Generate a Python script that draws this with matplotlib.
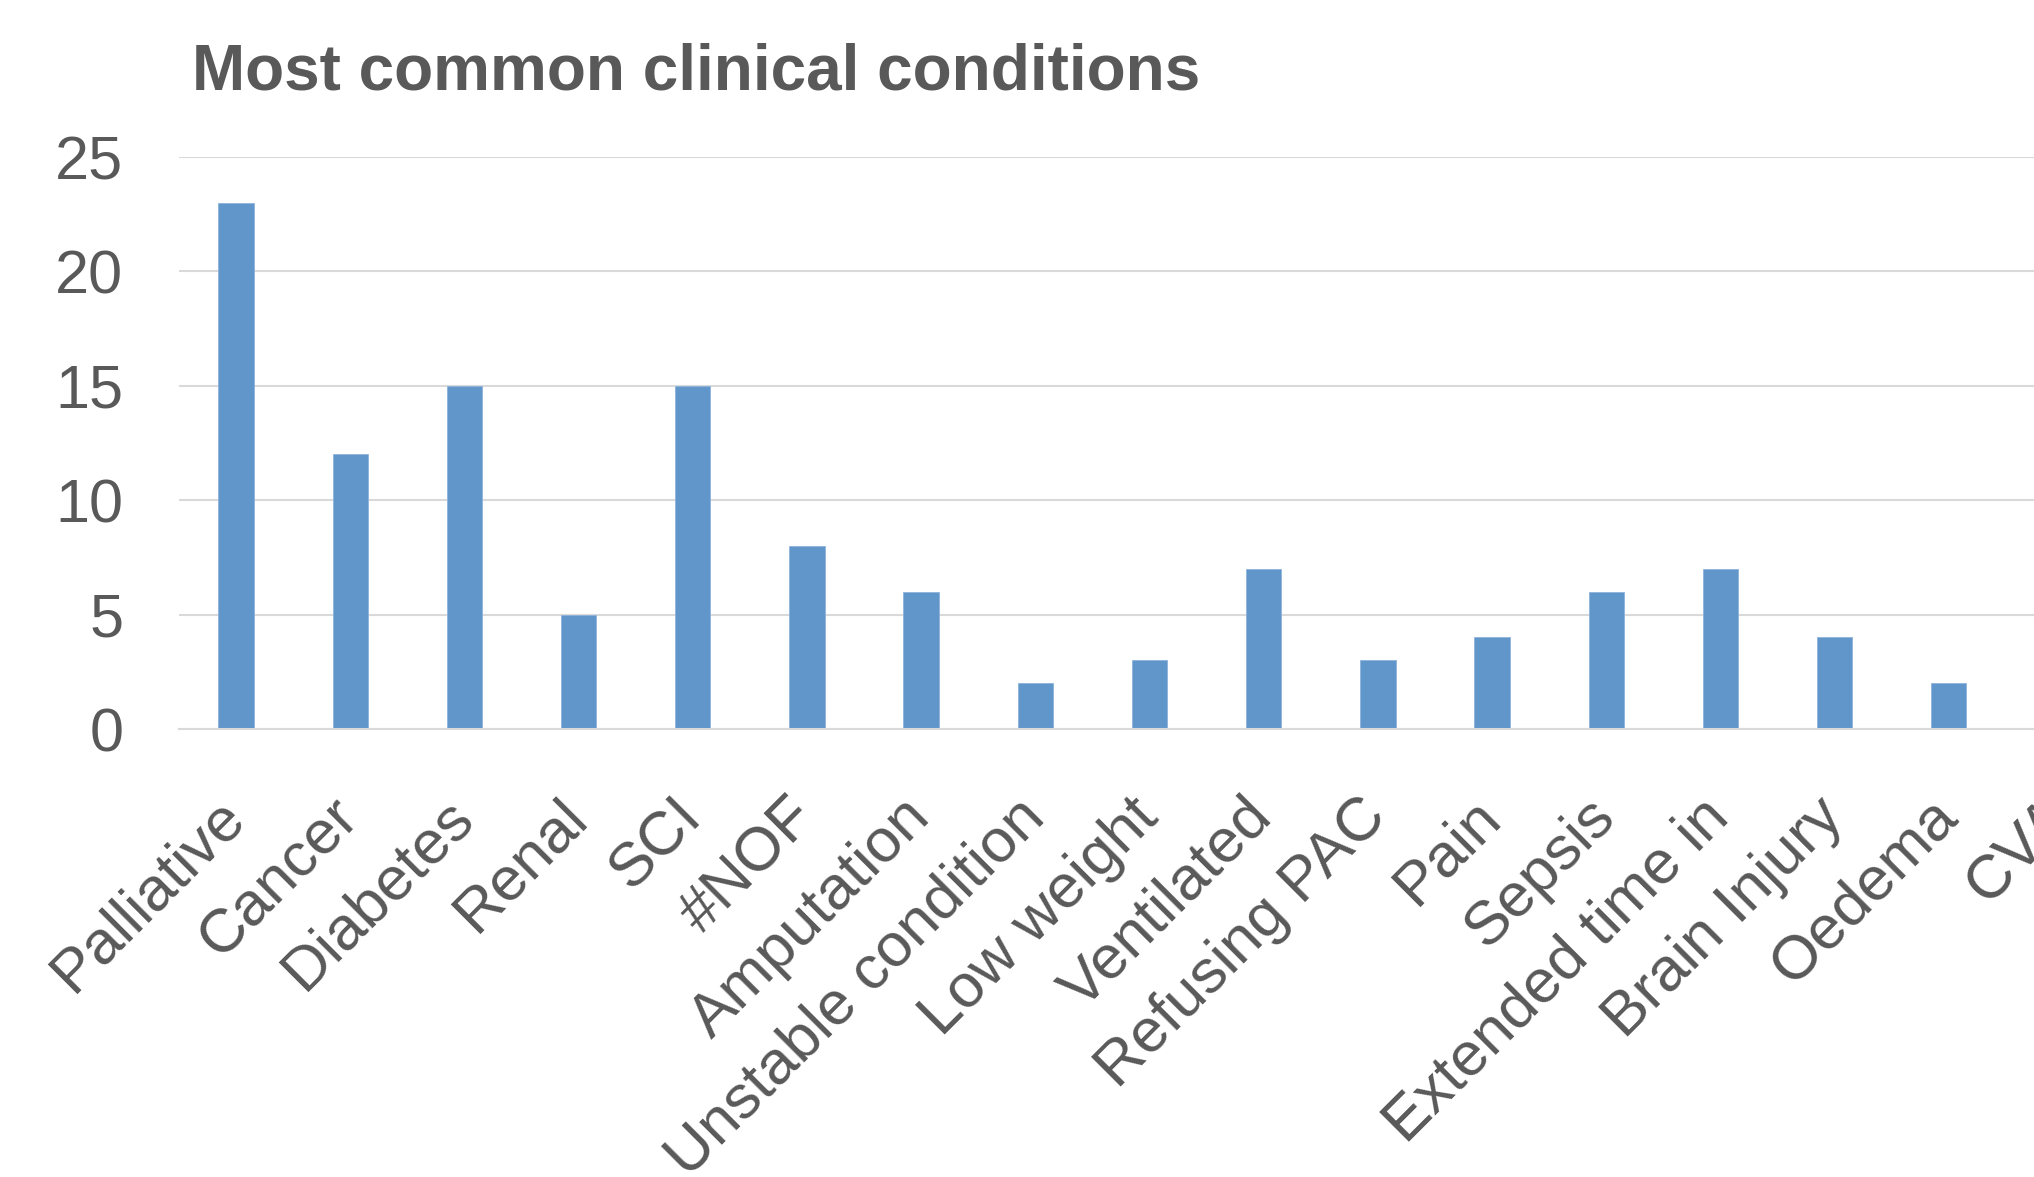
#!/usr/bin/env python3

import matplotlib
matplotlib.use('Agg')
import matplotlib.pyplot as plt

# data (CVA bar falls outside the visible canvas)
conditions= ['Palliative', 'Cancer', 'Diabetes', 'Renal', 'SCI', '#NOF', 'Amputation',
             'Unstable condition', 'Low weight', 'Ventilated', 'Refusing PAC', 'Pain',
             'Sepsis', 'Extended time in', 'Brain Injury', 'Oedema', 'CVA']
counts= [23, 12, 15, 5, 15, 8, 6, 2, 3, 7, 3, 4, 6, 7, 4, 2, 2]
yticks= [0, 5, 10, 15, 20, 25]

txt_color= '#595959'
bar_color= '#6096C9'
grid_color= '#D9D9D9'

plt.rcParams['font.family']= ['Liberation Sans', 'DejaVu Sans']

W, H= 2034, 1177
fig= plt.figure(figsize=(W/100, H/100), dpi=100)

# plot area runs past the right edge of the figure, as in the reference
left, right= 179, 2120
top, bottom= 157, 729
ax= fig.add_axes([left/W, 1-bottom/H, (right-left)/W, (bottom-top)/H])

x= range(len(conditions))
ax.bar(x, counts, width=0.31, color=bar_color, edgecolor='#8DB3DB', linewidth=0.6, zorder=3)

ax.set_xlim(-0.5, len(conditions)-0.5)
ax.set_ylim(0, 25)
ax.set_yticks(yticks)
ax.set_yticklabels([str(v) for v in yticks], fontsize=44, color=txt_color)
ax.tick_params(axis='y', length=0, pad=40)

ax.set_xticks(list(x))
ax.set_xticklabels(conditions, fontsize=44.5, color=txt_color, rotation=45,
                   ha='right', va='center', rotation_mode='anchor')
ax.tick_params(axis='x', length=0, pad=57)

ax.grid(axis='y', color=grid_color, linewidth=1.5, zorder=0)
for s in ['top', 'right', 'left']:
    ax.spines[s].set_visible(False)
ax.spines['bottom'].set_color(grid_color)
ax.spines['bottom'].set_linewidth(1.5)
ax.spines['bottom'].set_zorder(4)

fig.text(192/W, 1-89/H, 'Most common clinical conditions', fontsize=46,
         fontweight='bold', color=txt_color, ha='left', va='baseline')

plt.savefig('out.png', dpi=100)
